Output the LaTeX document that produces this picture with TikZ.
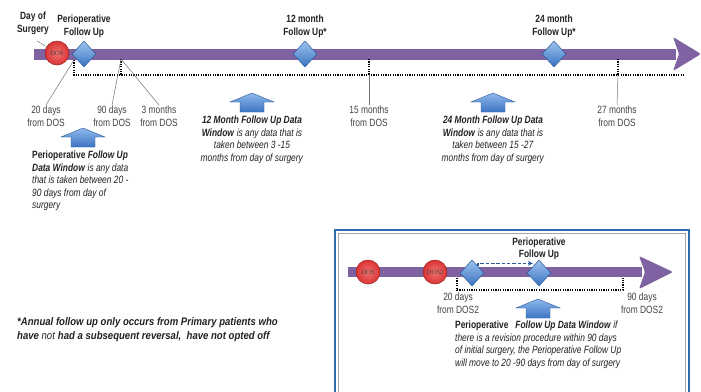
\documentclass[tikz,border=0pt]{standalone}
\usepackage{fontspec}
\setmainfont{Liberation Sans}[FakeStretch=0.8]
\newfontfamily\footfont{Liberation Sans}[FakeStretch=0.87]
\newfontfamily\dosfont{Liberation Serif}
\usetikzlibrary{shapes.geometric,arrows.meta,calc}
\definecolor{barpurple}{HTML}{7F62A1}
\definecolor{dosred}{HTML}{D93434}
\definecolor{dosredl}{HTML}{F27070}
\definecolor{dosedge}{HTML}{A02020}
\definecolor{diaml}{HTML}{9DC3F0}
\definecolor{diamd}{HTML}{3A73C0}
\definecolor{diamedge}{HTML}{2A5A98}
\definecolor{upl}{HTML}{8FB8EC}
\definecolor{upd}{HTML}{3C74C2}
\definecolor{boxblue}{HTML}{2B6CB0}
\definecolor{txt}{HTML}{222222}
\tikzset{
  barline/.style={line width=11pt, draw=barpurple},
  barhead/.style={fill=barpurple, rounded corners=1.5pt},
  dosnode/.style={circle, minimum size=24pt, inner sep=0pt, draw=dosedge, line width=0.5pt,
     inner color=dosredl, outer color=dosred, font=\dosfont\fontsize{6.5}{6.5}\selectfont, text=black!75},
  diamnode/.style={diamond, minimum width=24pt, minimum height=26pt, inner sep=0pt, draw=diamedge,
     line width=0.5pt, top color=diaml, bottom color=diamd},
  toplbl/.style={font=\fontsize{10.5}{13}\selectfont\bfseries, align=center, text=txt, inner sep=1pt},
  daylbl/.style={font=\fontsize{10.5}{13}\selectfont, align=center, text=txt!85, inner sep=1pt},
  wintext/.style={font=\fontsize{10.5}{12.4}\selectfont, text=txt, inner sep=0pt},
  leader/.style={draw=black!55, line width=0.5pt},
  winline/.style={draw=black, line width=1.4pt, dash pattern=on 1.2pt off 1.2pt},
  dashlink/.style={draw=diamedge, line width=1.6pt, dash pattern=on 3.5pt off 1.8pt, -{Stealth[length=5pt,width=5pt]}},
  uparrow/.pic={\shade[top color=upl, bottom color=upd, draw=diamedge, line width=0.4pt]
     (0,0) -- (22,9) -- (12,9) -- (12,19) -- (-12,19) -- (-12,9) -- (-22,9) -- cycle;}
}
\begin{document}
\begin{tikzpicture}[x=1pt,y=-1pt]
\useasboundingbox (0,0) rectangle (701,391);
\fill[white] (0,0) rectangle (701,391);

% ---------- main timeline ----------
\coordinate (barS) at (34,54);
\coordinate (barE) at (676,54);
\coordinate (tip) at (701,54);
\draw[barline] (barS) -- (barE);
\fill[barhead] (673,37) -- (tip) -- (673,71) -- (679,54) -- cycle;

% dotted data window
\coordinate (w0) at (74,60);
\coordinate (w1) at (74,75);
\coordinate (w2) at (684,75);
\draw[winline] (w0) -- (w1) -- (w2);
\coordinate (t90) at (121,59);
\coordinate (t90b) at (121,75);
\coordinate (t15) at (369,59);
\coordinate (t15b) at (369,75);
\coordinate (t27) at (618,59);
\coordinate (t27b) at (618,75);
\draw[winline] (t90) -- (t90b);
\draw[winline] (t15) -- (t15b);
\draw[winline] (t27) -- (t27b);

% markers
\node[dosnode] (dos) at (57,53) {DOS};
\node[diamnode] (dperi) at (84,54) {};
\node[diamnode] (d12) at (305,54) {};
\node[diamnode] (d24) at (554,54) {};

% top labels
\node[toplbl] (lday) at (33,23.5) {Day of\\Surgery};
\node[toplbl] (lperi) at (84,26.5) {Perioperative\\Follow Up};
\node[toplbl] (l12) at (305,26.5) {12 month\\Follow Up*};
\node[toplbl] (l24) at (554,26.5) {24 month\\Follow Up*};
\draw[leader] (37,41) -- (dos);

% day labels
\node[daylbl, anchor=north] (n20) at (46,105) {20 days\\from DOS};
\node[daylbl, anchor=north] (n90) at (112,105) {90 days\\from DOS};
\node[daylbl, anchor=north] (n3m) at (159,105) {3 months\\from DOS};
\node[daylbl, anchor=north] (n15) at (369,105) {15 months\\from DOS};
\node[daylbl, anchor=north] (n27) at (617,105) {27 months\\from DOS};
\draw[leader] (w0) -- (n20.north);
\draw[leader] (t90) -- (n90.north);
\draw[leader] (t90) -- (n3m.north);
\draw[leader] (t15b) -- (n15.north);
\draw[leader] (t27b) -- (n27.north);

% up arrows
\pic at (83,128) {uparrow};
\pic at (252,93) {uparrow};
\pic at (493,93) {uparrow};

% window texts
\node[wintext, anchor=north west, align=left] (tperi) at (32,151)
 {\textbf{Perioperative} \textbf{\textit{Follow Up}}\\
  \textbf{\textit{Data Window}}\textit{ is any data}\\
  \textit{that is taken between 20 -}\\
  \textit{90 days from day of}\\
  \textit{surgery}};
\node[wintext, anchor=north, align=center] (t12) at (252,116)
 {\textbf{\textit{12 Month Follow Up Data}}\\
  \textbf{\textit{Window}}\textit{ is any data that is}\\
  \textit{taken between 3 -15}\\
  \textit{months from day of surgery}};
\node[wintext, anchor=north, align=center] (t24) at (493,116)
 {\textbf{\textit{24 Month Follow Up Data}}\\
  \textbf{\textit{Window}}\textit{ is any data that is}\\
  \textit{taken between 15 -27}\\
  \textit{months from day of surgery}};

% footnote
\node[wintext, anchor=north west, align=left, font=\footfont\fontsize{11}{14}\selectfont] (foot) at (17,317)
 {\textbf{\textit{*Annual follow up only occurs from Primary patients who}}\\
  \textbf{\textit{have}} \textit{not} \textbf{\textit{had a subsequent reversal,\ \ have not opted off}}};

% ---------- inset box ----------
\draw[boxblue, line width=2.5pt] (335,230) rectangle (689,400);
\draw[black!35, line width=0.5pt] (338.5,233.5) rectangle (685.5,400);

\coordinate (bS) at (348,272);
\coordinate (bE) at (642,272);
\coordinate (btip) at (673,272);
\draw[barline, line width=10pt] (bS) -- (bE);
\fill[barhead] (639,256) -- (btip) -- (639,289) -- (645,272) -- cycle;

\coordinate (v0) at (457,278);
\coordinate (v1) at (457,290);
\coordinate (v2) at (623,290);
\coordinate (v3) at (623,278);
\draw[winline] (v0) -- (v1) -- (v2) -- (v3);

\node[dosnode] (bdos) at (368,272) {DOS};
\node[dosnode] (bdos2) at (435,272) {DOS2};
\node[diamnode] (bd1) at (472,273) {};
\node[diamnode] (bd2) at (539,273) {};
\draw[dashlink] (bd1.north east) |- ([yshift=3pt]bd2.north west);

\node[toplbl, font=\fontsize{10.5}{12}\selectfont\bfseries] (bperi) at (539,248.5) {Perioperative\\Follow Up};
\node[daylbl, anchor=north] (b20) at (458,292) {20 days\\from DOS2};
\node[daylbl, anchor=north] (b90) at (642,292) {90 days\\from DOS2};

\pic at (538,299) {uparrow};

\node[wintext, anchor=north west, align=left] (tbox) at (455,321)
 {\textbf{Perioperative}\ \ \ \textbf{\textit{Follow Up Data Window}}\textit{ if}\\
  \textit{there is a revision procedure\ within 90 days}\\
  \textit{of initial surgery,\ the Perioperative\ Follow Up}\\
  \textit{will move to 20 -90 days from day of surgery}};
\end{tikzpicture}
\end{document}
